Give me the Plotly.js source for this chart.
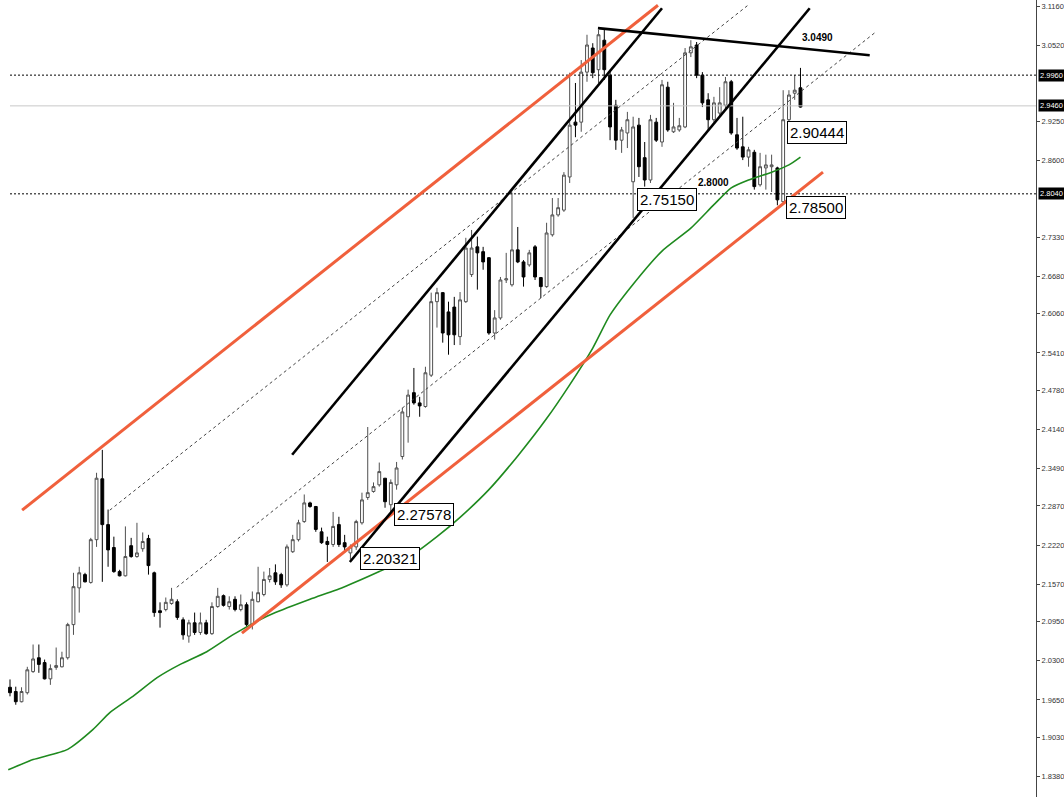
<!DOCTYPE html>
<html>
<head>
<meta charset="utf-8">
<script src="https://cdn.plot.ly/plotly-3.0.1.min.js"></script>
<style>
html,body{margin:0;padding:0;background:#fff;overflow:hidden;}
#chart{width:1064px;height:805px;}
</style>
</head>
<body>
<div id="chart"></div>
<script>
// ---- Candle data ----
const opens = [1.986,1.979,1.962,1.977,2.012,2.035,2.027,2.000,2.019,2.020,
 2.035,2.090,2.151,2.173,2.160,2.231,2.332,2.256,2.218,2.178,
 2.171,2.221,2.203,2.216,2.233,2.176,2.113,2.115,2.125,2.128,
 2.098,2.071,2.093,2.077,2.093,2.075,2.120,2.138,2.120,2.132,
 2.115,2.123,2.090,2.128,2.140,2.165,2.176,2.173,2.156,2.211,
 2.231,2.261,2.292,2.286,2.244,2.228,2.223,2.256,2.226,2.209,
 2.219,2.259,2.301,2.311,2.322,2.333,2.289,2.322,2.369,2.435,
 2.475,2.458,2.452,2.504,2.626,2.641,2.609,2.617,2.568,2.626,
 2.671,2.717,2.709,2.699,2.574,2.599,2.662,2.654,2.712,2.692,
 2.687,2.717,2.666,2.651,2.737,2.770,2.778,2.833,2.924,2.924,
 3.007,3.047,3.011,3.060,3.002,2.952,2.894,2.906,2.825,2.919,
 2.865,2.828,2.924,2.891,2.982,2.908,2.911,2.916,3.039,3.052,
 3.002,2.961,2.928,2.939,2.952,2.991,2.903,2.883,2.866,2.874,
 2.820,2.848,2.850,2.848,2.792,2.928,2.972,2.981];
const highs = [1.999,1.987,1.986,2.020,2.057,2.057,2.032,2.024,2.052,2.045,
 2.093,2.176,2.186,2.176,2.234,2.342,2.380,2.281,2.236,2.181,
 2.253,2.234,2.259,2.243,2.239,2.178,2.127,2.135,2.151,2.132,
 2.102,2.098,2.110,2.110,2.098,2.127,2.151,2.140,2.137,2.137,
 2.140,2.127,2.145,2.186,2.178,2.184,2.190,2.176,2.223,2.239,
 2.264,2.306,2.294,2.287,2.251,2.236,2.277,2.269,2.239,2.223,
 2.264,2.309,2.418,2.326,2.359,2.333,2.331,2.360,2.450,2.480,
 2.516,2.468,2.518,2.641,2.649,2.642,2.626,2.634,2.642,2.732,
 2.745,2.734,2.717,2.700,2.612,2.667,2.707,2.807,2.750,2.695,
 2.712,2.720,2.667,2.757,2.798,2.798,2.841,3.006,2.989,3.027,
 3.069,3.055,3.077,3.077,3.011,2.961,2.916,2.941,2.933,2.931,
 2.891,2.936,2.931,2.994,2.991,2.956,2.931,3.047,3.060,3.057,
 3.007,2.972,2.966,2.982,2.999,2.994,2.931,2.933,2.883,2.878,
 2.873,2.870,2.870,2.850,2.977,2.977,3.002,3.014];
const lows = [1.971,1.957,1.961,1.974,2.010,2.010,1.999,1.990,2.015,2.019,
 2.032,2.073,2.110,2.160,2.158,2.219,2.161,2.186,2.176,2.170,
 2.170,2.201,2.201,2.211,2.173,2.103,2.085,2.112,2.123,2.098,
 2.065,2.060,2.073,2.073,2.073,2.073,2.118,2.120,2.115,2.112,
 2.112,2.087,2.082,2.127,2.137,2.160,2.156,2.151,2.153,2.209,
 2.228,2.259,2.284,2.244,2.224,2.194,2.219,2.219,2.209,2.198,
 2.214,2.256,2.297,2.309,2.319,2.284,2.277,2.314,2.364,2.392,
 2.455,2.435,2.450,2.501,2.583,2.558,2.538,2.554,2.554,2.624,
 2.667,2.646,2.679,2.571,2.563,2.596,2.657,2.651,2.690,2.651,
 2.684,2.662,2.632,2.649,2.734,2.767,2.775,2.823,2.899,2.908,
 2.991,2.997,2.989,2.994,2.894,2.878,2.873,2.881,2.765,2.833,
 2.817,2.823,2.891,2.883,2.908,2.906,2.908,2.914,3.032,2.997,
 2.949,2.911,2.923,2.933,2.944,2.903,2.878,2.861,2.850,2.812,
 2.817,2.812,2.808,2.786,2.790,2.916,2.961,2.948];
const closes = [1.977,1.962,1.979,2.015,2.033,2.024,2.000,2.017,2.022,2.035,
 2.090,2.153,2.176,2.161,2.231,2.333,2.256,2.214,2.178,2.171,
 2.203,2.203,2.209,2.228,2.188,2.110,2.110,2.127,2.132,2.102,
 2.073,2.093,2.077,2.093,2.075,2.120,2.137,2.122,2.128,2.115,
 2.123,2.090,2.132,2.143,2.165,2.171,2.161,2.156,2.219,2.231,
 2.259,2.292,2.286,2.248,2.226,2.223,2.253,2.223,2.219,2.219,
 2.261,2.297,2.309,2.319,2.344,2.294,2.326,2.350,2.443,2.471,
 2.458,2.453,2.508,2.626,2.641,2.574,2.571,2.571,2.629,2.715,
 2.715,2.707,2.692,2.574,2.599,2.662,2.664,2.712,2.692,2.667,
 2.707,2.667,2.651,2.740,2.770,2.782,2.836,2.919,2.919,3.007,
 3.052,3.006,3.069,3.011,2.916,2.894,2.911,2.928,2.916,2.850,
 2.828,2.928,2.894,2.986,2.911,2.916,2.918,3.039,3.049,3.002,
 2.956,2.928,2.956,2.956,2.991,2.906,2.881,2.866,2.878,2.817,
 2.850,2.853,2.853,2.795,2.928,2.969,2.977,2.949];
const candleIdx = opens.map((_, i) => i);

// ---- Moving average (green) ----
const maX = [-0.3,4,10,14.4,17.3,21.3,25.5,29.5,34.1,38.6,43.3,46,52,58,64,69,74,78,83,88,93,97,101,104,108,113,118,122,125,128,132,135,137];
const maY = [1.849,1.866,1.883,1.916,1.944,1.971,2.002,2.024,2.045,2.073,2.098,2.110,2.132,2.153,2.178,2.201,2.236,2.268,2.314,2.370,2.432,2.488,2.549,2.604,2.655,2.710,2.748,2.787,2.815,2.828,2.841,2.853,2.866];

// ---- Trend lines (candle index, price) ----
const orangeUpperX = [2.1, 112.3],  orangeUpperY = [2.280, 3.118];
const orangeLowerX = [40.2, 140.9], orangeLowerY = [2.076, 2.841];
const blackAX = [48.9, 113.0],      blackAY = [2.372, 3.113];
const blackBX = [58.9, 138.6],      blackBY = [2.194, 3.113];
const blackTopX = [101.9, 149.0],   blackTopY = [3.080, 3.035];
const dashAX = [17.3, 127.9],       dashAY = [2.280, 3.118];
const dashBX = [28.9, 150.1],       dashBY = [2.152, 3.074];

// ---- Horizontal levels ----
const dottedLevels = [3.002, 2.805];
const bidLevel = 2.951;
const sideLabels = ["2.9960", "2.9460", "2.8040"];
const sideLabelLevels = [3.002, 2.951, 2.805];

// ---- Axis ticks ----
const tickVals = [3.116,3.052,2.925,2.860,2.733,2.668,2.606,2.541,2.478,2.414,2.349,2.287,2.222,2.157,2.095,2.030,1.965,1.903,1.838];
const tickText = ["3.1160","3.0520","2.9250","2.8600","2.7330","2.6680","2.6060","2.5410","2.4780","2.4140","2.3490","2.2870","2.2220","2.1570","2.0950","2.0300","1.9650","1.9030","1.8380"];

// ---- Price labels on chart ----
const boxLabels = ["2.20321","2.27578","2.75150","2.90444","2.78500"];
const boxLabelX = [65.9, 71.8, 113.9, 139.9, 139.7];
const boxLabelY = [2.199, 2.272, 2.795, 2.906, 2.783];
const boldLabels = ["3.0490", "2.8000"];
const boldLabelX = [139.9, 122.0];
const boldLabelY = [3.065, 2.823];

const xMin = -1.733, xMax = 177.82;
const yMin = 1.8039, yMax = 3.1267;

const traces = [];
function line(x, y, color, width, dash) {
  traces.push({type:'scatter', mode:'lines', x:x, y:y, hoverinfo:'skip', showlegend:false,
    line:{color:color, width:width, dash:dash || 'solid', shape:'spline', smoothing:0.6}, cliponaxis:true});
}
// horizontal levels
dottedLevels.forEach(v => line([0, xMax], [v, v], '#000', 1, '2px,2px'));
line([0, xMax], [bidLevel, bidLevel], '#c8c8c8', 1);
// dashed channel lines
line(dashAX, dashAY, '#444', 1, '3px,3px');
line(dashBX, dashBY, '#444', 1, '3px,3px');
// moving average
line(maX, maY, '#1f8a1f', 1.6);

traces.push({
  type:'candlestick', x:candleIdx, open:opens, high:highs, low:lows, close:closes,
  showlegend:false, hoverinfo:'skip', whiskerwidth:0,
  increasing:{line:{color:'#505050', width:1}, fillcolor:'#ffffff'},
  decreasing:{line:{color:'#000000', width:1}, fillcolor:'#000000'}
});

// trend lines on top
line(orangeUpperX, orangeUpperY, '#f0603c', 3);
line(orangeLowerX, orangeLowerY, '#f0603c', 3);
line(blackAX, blackAY, '#000', 2.6);
line(blackBX, blackBY, '#000', 2.6);
line(blackTopX, blackTopY, '#000', 2.6);

const annotations = [];
boxLabels.forEach((t, i) => annotations.push({
  x: boxLabelX[i], y: boxLabelY[i], xref:'x', yref:'y', text:t, showarrow:false,
  font:{family:'"Liberation Sans",Arial,sans-serif', size:15, color:'#000'},
  bgcolor:'#ffffff', bordercolor:'#000', borderwidth:1, borderpad:2
}));
boldLabels.forEach((t, i) => annotations.push({
  x: boldLabelX[i], y: boldLabelY[i], xref:'x', yref:'y', text:'<b>'+t+'</b>', showarrow:false,
  font:{family:'"Liberation Sans",Arial,sans-serif', size:10, color:'#000'}
}));
sideLabels.forEach((t, i) => annotations.push({
  x: 1, xref:'paper', xanchor:'left', xshift:2, y: sideLabelLevels[i], yref:'y', text:t, showarrow:false,
  font:{family:'"Liberation Sans",Arial,sans-serif', size:7.5, color:'#fff'},
  bgcolor:'#000', borderpad:1
}));

const layout = {
  width:1064, height:805,
  margin:{l:0, r:28, t:0, b:8, pad:0},
  paper_bgcolor:'#fff', plot_bgcolor:'#fff',
  showlegend:false,
  xaxis:{range:[xMin, xMax], visible:false, rangeslider:{visible:false}, fixedrange:true},
  yaxis:{range:[yMin, yMax], side:'right', showgrid:false, zeroline:false,
    showline:true, linecolor:'#444', linewidth:1,
    ticks:'outside', ticklen:3, tickcolor:'#444',
    tickvals:tickVals, ticktext:tickText,
    tickfont:{family:'"Liberation Sans",Arial,sans-serif', size:7.5, color:'#333'}},
  annotations: annotations
};

Plotly.newPlot('chart', traces, layout, {staticPlot:true, displayModeBar:false});
</script>
</body>
</html>
